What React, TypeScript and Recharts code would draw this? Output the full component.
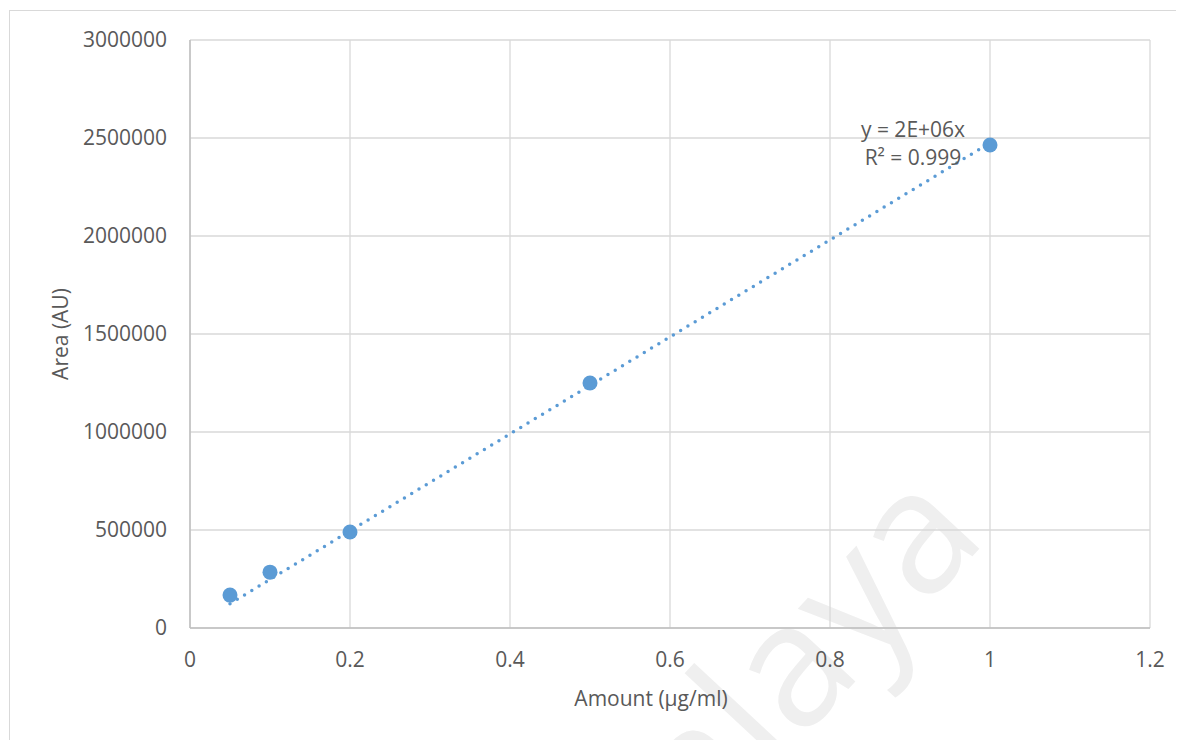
import { CartesianGrid, Scatter, ScatterChart, XAxis, YAxis } from "recharts";

const amounts = [0.05, 0.1, 0.2, 0.5, 1];
const areas = [168000, 285000, 490000, 1250000, 2464000];

// dotted trendline (through origin), end points
const trendAmounts = [0.05, 1];
const trendAreas = [124000, 2475000];

const xTicks = [0, 0.2, 0.4, 0.6, 0.8, 1, 1.2];
const yTicks = [0, 500000, 1000000, 1500000, 2000000, 2500000, 3000000];

const equationLines = ["y = 2E+06x", "R² = 0.999"];

const blue = "#5b9bd5";
const textGrey = "#595959";
const font = "'Open Sans', sans-serif";

const points = amounts.map((x, i) => ({ x, y: areas[i] }));
const trendPoints = trendAmounts.map((x, i) => ({ x, y: trendAreas[i] }));

const overlayText: React.CSSProperties = {
  position: "absolute",
  fontSize: 21,
  color: textGrey,
  whiteSpace: "nowrap",
  lineHeight: 1,
  transform: "translate(-50%, -50%)",
};

export default function App() {
  return (
    <div style={{ position: "relative", width: 1176, height: 732, overflow: "hidden", fontFamily: font, background: "#fff" }}>
      <div
        style={{
          position: "absolute",
          left: 1,
          top: 2,
          width: 1200,
          height: 760,
          borderTop: "1px solid #d9d9d9",
          borderLeft: "1px solid #d9d9d9",
        }}
      />
      <svg width={1176} height={732} style={{ position: "absolute", left: 0, top: 0 }}>
        <text
          x={697}
          y={835}
          transform="rotate(-47 697 835)"
          fontSize={172}
          fill="#efefef"
          fontFamily={font}
        >
          alaya
        </text>
      </svg>
      <div style={{ position: "absolute", left: 0, top: 0 }}>
        <ScatterChart width={1176} height={732} margin={{ top: 32, right: 34, bottom: 0, left: 0 }}>
          <CartesianGrid stroke="#d9d9d9" strokeWidth={1.3} />
          <XAxis
            type="number"
            dataKey="x"
            domain={[0, 1.2]}
            ticks={xTicks}
            height={112}
            tickLine={false}
            tickSize={0}
            tickMargin={24}
            axisLine={{ stroke: "#bfbfbf", strokeWidth: 1.5 }}
            tick={{ fill: textGrey, fontSize: 21, fontFamily: font }}
          />
          <YAxis
            type="number"
            dataKey="y"
            domain={[0, 3000000]}
            ticks={yTicks}
            width={182}
            tickLine={false}
            tickSize={0}
            tickMargin={23}
            axisLine={{ stroke: "#bfbfbf", strokeWidth: 1.5 }}
            tick={{ fill: textGrey, fontSize: 21, fontFamily: font }}
          />
          <Scatter
            data={points}
            fill={blue}
            isAnimationActive={false}
            shape={(p: any) => <circle cx={p.cx} cy={p.cy} r={7.5} fill={blue} />}
          />
          <Scatter
            data={trendPoints}
            fill={blue}
            isAnimationActive={false}
            line={{ stroke: blue, strokeWidth: 3.5, strokeDasharray: "0 8.5", strokeLinecap: "round" }}
            lineType="joint"
            shape={() => <g />}
          />
        </ScatterChart>
      </div>
      <div style={{ ...overlayText, left: 905, top: 121 }}>{equationLines[0]}</div>
      <div style={{ ...overlayText, left: 905, top: 149 }}>{equationLines[1]}</div>
      <div style={{ ...overlayText, left: 643, top: 690 }}>Amount (µg/ml)</div>
      <div style={{ ...overlayText, left: 52, top: 326, transform: "translate(-50%, -50%) rotate(-90deg)" }}>Area (AU)</div>
    </div>
  );
}
